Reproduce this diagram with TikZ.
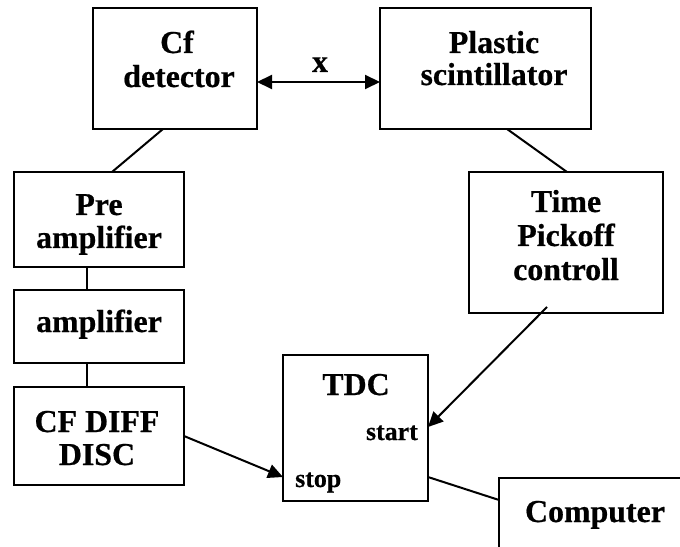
\documentclass[tikz,border=0pt]{standalone}
\usepackage{fontspec}
\setmainfont{Liberation Serif}[BoldFeatures={FakeBold=0.6}]
\usetikzlibrary{arrows.meta,fit}
\begin{document}
\begin{tikzpicture}[x=1bp,y=-1bp,
  box/.style={draw,line width=2bp,inner sep=0pt,rectangle},
  lbl/.style={anchor=base,inner sep=0pt,font=\fontsize{32}{32}\selectfont\bfseries},
  port/.style={anchor=base,inner sep=0pt,font=\fontsize{26}{26}\selectfont\bfseries},
  wire/.style={line width=2bp},
  tip/.style={Triangle[length=15bp,width=14bp]},
  arr/.style={line width=2bp,-{Triangle[length=15bp,width=14bp]}},
  darr/.style={line width=2bp,{Triangle[length=15bp,width=14bp]}-{Triangle[length=15bp,width=14bp]}}]
\useasboundingbox (0,0) rectangle (680,547);
\begin{scope}
\clip (0,0) rectangle (680,547);
% boxes
\node[box,fit={(93,8) (257,129)}] (cf) {};
\node[box,fit={(380,8) (591,129)}] (ps) {};
\node[box,fit={(14,172) (184,267)}] (pre) {};
\node[box,fit={(14,290) (184,363)}] (amp) {};
\node[box,fit={(14,387) (184,485)}] (disc) {};
\node[box,fit={(469,172) (663,313)}] (tpc) {};
\node[box,fit={(283,355) (428,501)}] (tdc) {};
\node[box,fit={(499,478) (720,600)}] (pc) {};
% box texts
\node[lbl] (cf1) at (177,53) {Cf};
\node[lbl] (cf2) at (179,87) {detector};
\node[lbl] (ps1) at (494,53) {Plastic};
\node[lbl] (ps2) at (494,85) {scintillator};
\node[lbl] (pre1) at (99,215) {Pre};
\node[lbl] (pre2) at (99,248) {amplifier};
\node[lbl] (amp1) at (99,332) {amplifier};
\node[lbl] (disc1) at (97,432) {CF DIFF};
\node[lbl] (disc2) at (97,465) {DISC};
\node[lbl] (tpc1) at (566,212) {Time};
\node[lbl] (tpc2) at (566,246) {Pickoff};
\node[lbl] (tpc3) at (566,280) {controll};
\node[lbl] (tdc1) at (356,395) {TDC};
\node[lbl] (pc1) at (595,522) {Computer};
\node[port,anchor=base east] (start) at (418,440) {start};
\node[port,anchor=base west] (stop) at (295,487) {stop};
\node[lbl] (xlabel) at (320,72) {x};
% connector end points on the box edges
\coordinate (cfR) at (257,82);
\coordinate (psL) at (380,82);
\coordinate (cfB) at (163,129);
\coordinate (preT) at (112,172);
\coordinate (psB) at (507,129);
\coordinate (tpcT) at (567,172);
\coordinate (tpcout) at (547,307);
\coordinate (tdcR1) at (428,427);
\coordinate (tdcR2) at (428,477);
\coordinate (tdcL) at (283,477);
\coordinate (discR) at (184,436);
\coordinate (pcL) at (499,500);
% connectors
\draw[darr] (cfR) -- (psL);
\draw[wire] (cfB) -- (preT);
\draw[wire] (pre.south -| 87,0) -- (amp.north -| 87,0);
\draw[wire] (amp.south -| 87,0) -- (disc.north -| 87,0);
\draw[wire] (psB) -- (tpcT);
\draw[arr] (discR) -- (tdcL);
\draw[arr] (tpcout) -- (tdcR1);
\draw[wire] (tdcR2) -- (pcL);
\end{scope}
\end{tikzpicture}
\end{document}
